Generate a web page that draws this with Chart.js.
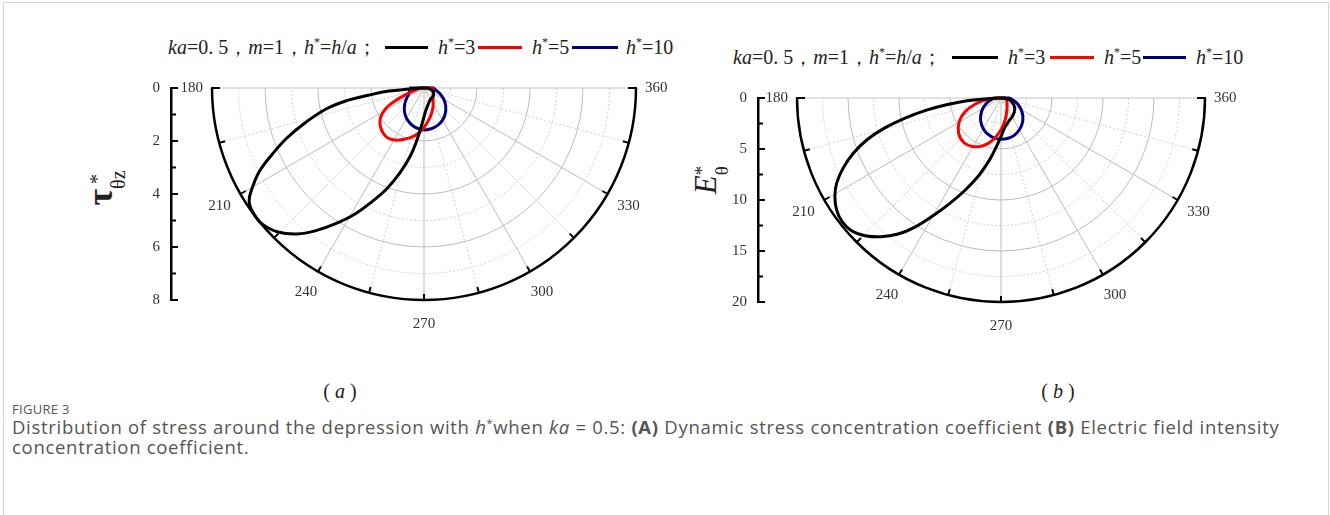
<!DOCTYPE html>
<html lang="en">
<head>
<meta charset="UTF-8">
<title>Figure 3</title>
<script src="https://cdn.jsdelivr.net/npm/chart.js"></script>
<style>
  body { margin: 0; background: #fff; width: 1330px; height: 515px; position: relative; overflow: hidden; font-family: "Liberation Serif", serif; color: #222; }
  .frame { position: absolute; left: 3px; top: 2px; width: 1324px; height: 600px; border: 1px solid #d4d4d4; }
  canvas { position: absolute; top: 0; }
  .lg { position: absolute; font-size: 20px; white-space: nowrap; line-height: 1; }
  .lg sup { font-size: 12px; vertical-align: 8px; }
  .ln { position: absolute; height: 3px; }
  .ytitle { position: absolute; transform: translate(-50%, -50%) rotate(-90deg); white-space: nowrap; line-height: 1; }
  .ss { display: inline-block; vertical-align: middle; line-height: 1.05; text-align: left; }
  .ss span { display: block; }
  .sub { position: absolute; font-size: 20px; transform: translateX(-50%); white-space: nowrap; }
  .cap { position: absolute; left: 12px; font-family: "Open Sans", sans-serif; color: #555; white-space: nowrap; }
</style>
</head>
<body>
<div class="frame"></div>

<!-- legends -->
<div class="lg" style="left:168px; top:36px;"><i>ka</i>=0. 5，<i>m</i>=1，<i>h</i><sup>*</sup>=<i>h</i>/<i>a</i>；</div>
<div class="ln" style="left:385px; top:46px; width:43px; background:#000;"></div>
<div class="lg" style="left:438px; top:36px;"><i>h</i><sup>*</sup>=3</div>
<div class="ln" style="left:478px; top:46px; width:44px; background:#f00;"></div>
<div class="lg" style="left:532px; top:36px;"><i>h</i><sup>*</sup>=5</div>
<div class="ln" style="left:572px; top:46px; width:46px; background:#00007f;"></div>
<div class="lg" style="left:626px; top:36px;"><i>h</i><sup>*</sup>=10</div>

<div class="lg" style="left:733px; top:46px;"><i>ka</i>=0. 5，<i>m</i>=1，<i>h</i><sup>*</sup>=<i>h</i>/<i>a</i>；</div>
<div class="ln" style="left:952px; top:56px; width:46px; background:#000;"></div>
<div class="lg" style="left:1008px; top:46px;"><i>h</i><sup>*</sup>=3</div>
<div class="ln" style="left:1050px; top:56px; width:44px; background:#f00;"></div>
<div class="lg" style="left:1104px; top:46px;"><i>h</i><sup>*</sup>=5</div>
<div class="ln" style="left:1143px; top:56px; width:43px; background:#00007f;"></div>
<div class="lg" style="left:1196px; top:46px;"><i>h</i><sup>*</sup>=10</div>

<!-- axis titles -->
<div class="ytitle" style="left:106px; top:188px;"><span style="font-size:36px; font-weight:bold;">τ</span><span class="ss" style="font-size:20px;"><span>&nbsp;*</span><span>θz</span></span></div>
<div class="ytitle" style="left:711px; top:180px;"><span style="font-size:31px; font-style:italic;">E</span><span class="ss" style="font-size:19px;"><span>*</span><span>θ</span></span></div>

<canvas id="chartA" width="680" height="340" style="left:0px;"></canvas>
<canvas id="chartB" width="650" height="340" style="left:680px;"></canvas>

<div class="sub" style="left:340px; top:380px;">( <i>a</i> )</div>
<div class="sub" style="left:1058px; top:380px;">( <i>b</i> )</div>

<div class="cap" style="top:400px; font-size:13px; letter-spacing:0.3px;">FIGURE 3</div>
<div class="cap" style="top:414px; font-size:18.5px; letter-spacing:0.7px;">Distribution of stress around the depression with <i>h</i><sup style="font-size:11px">*</sup>when <i>ka</i> = 0.5: <b>(A)</b> Dynamic stress concentration coefficient <b>(B)</b> Electric field intensity</div>
<div class="cap" style="top:434px; font-size:18.5px; letter-spacing:0.7px;">concentration coefficient.</div>

<script>
    // angle labels round the half circle
    const angleTicks = [180, 210, 240, 270, 300, 330, 360];

    // (a) dynamic stress concentration coefficient, tau*_theta_z
    const angBlackA = [180, 184.1, 185, 187.4, 189.2, 192, 196.1, 200.1, 203.6, 206.8, 210, 212.8, 215.9, 220, 224.6, 229, 232.7, 236.8, 241.3, 245.5, 249.9, 254.2, 258.5, 262.3, 266.8, 275.2, 296.6, 329, 346, 360];
    const rBlackA   = [0.1, 0.55, 1.33, 2.12, 2.93, 3.76, 4.63, 5.52, 6.25, 6.95, 7.47, 7.85, 7.98, 7.98, 7.74, 7.3, 6.78, 6.13, 5.42, 4.7, 4.03, 3.32, 2.64, 1.98, 1.36, 0.83, 0.51, 0.44, 0.31, 0.11];
    const angRedA   = [180, 190, 195, 200, 204, 208, 216, 228, 239, 254, 267, 282, 295, 307, 320, 335, 347, 360];
    const rRedA     = [0.2, 0.25, 0.35, 0.75, 1.2, 1.62, 2.05, 2.3, 2.28, 1.96, 1.59, 1.12, 0.8, 0.57, 0.45, 0.38, 0.35, 0.33];
    const angBlueA  = [180, 190, 200, 210, 220, 230, 240, 250, 260, 270, 280, 290, 300, 310, 320, 330, 340, 350, 360];
    const rBlueA    = [0.55, 0.55, 0.6, 0.75, 0.95, 1.15, 1.32, 1.45, 1.54, 1.58, 1.56, 1.5, 1.4, 1.25, 1.07, 0.87, 0.65, 0.45, 0.35];

    // (b) electric field intensity concentration coefficient, E*_theta
    const angBlackB = [180, 182.9, 184.5, 187, 189.3, 191.8, 194.5, 197.3, 200.5, 204, 207.4, 210.7, 214.3, 217.9, 221.6, 225.4, 229.1, 232.9, 236.4, 239.9, 244.1, 248.8, 254.2, 259.5, 264.7, 270, 276.6, 287.8, 303.5, 319.6, 332.2, 345.8, 356, 360];
    const rBlackB   = [0.3, 1.29, 3.33, 5.39, 7.48, 9.61, 11.81, 13.76, 15.46, 16.96, 18.15, 18.94, 19.5, 19.74, 19.6, 18.96, 18.0, 16.72, 15.16, 13.37, 11.48, 9.67, 7.84, 6.17, 4.77, 3.77, 2.97, 2.42, 2.09, 1.77, 1.41, 0.94, 0.41, 0.3];
    const angRedB   = [180, 184.4, 192.8, 200.6, 209.3, 219.6, 230.1, 239.4, 249.1, 259.2, 270, 280.9, 296.8, 330.4, 350, 360];
    const rRedB     = [0.27, 1.29, 2.53, 3.73, 4.69, 5.4, 5.69, 5.52, 5.02, 4.17, 3.11, 2.17, 1.29, 0.67, 0.5, 0.4];
    const angBlueB  = [180, 190, 200, 210, 220, 230, 240, 250, 260, 270, 280, 290, 300, 310, 320, 330, 340, 350, 360];
    const rBlueB    = [0.6, 0.99, 1.51, 2.06, 2.59, 3.07, 3.47, 3.77, 3.97, 4.05, 4.01, 3.87, 3.6, 3.24, 2.8, 2.28, 1.73, 1.19, 0.74];

    const serif = '"Liberation Serif", "Times New Roman", serif';

    // polar (angle, r) -> x/y for the scatter scales, loop closed back to the start
    function polarPoints(angles, radii) {
        const pts = angles.map((a, i) => ({
            x: radii[i] * Math.cos(a * Math.PI / 180),
            y: radii[i] * Math.sin(a * Math.PI / 180)
        }));
        pts.push(pts[0]);
        return pts;
    }

    // grid, outer circle, angle labels and inward ticks of the left axis
    const polarFrame = {
        id: 'polarFrame',
        beforeDatasetsDraw(chart, args, opts) {
            const { ctx, scales: { x, y } } = chart;
            const cx = x.getPixelForValue(0), cy = y.getPixelForValue(0);
            const k = (y.getPixelForValue(-opts.rMax) - cy) / opts.rMax;
            const R = opts.rMax * k;
            ctx.save();
            ctx.lineWidth = 1;
            for (let v = opts.minor; v < opts.rMax - 1e-6; v += opts.minor) {
                const major = Math.abs(v / opts.major - Math.round(v / opts.major)) < 1e-6;
                ctx.setLineDash(major ? [] : [2, 2]);
                ctx.strokeStyle = major ? '#bcbcbc' : '#d2d2d2';
                ctx.beginPath();
                ctx.arc(cx, cy, v * k, 0, Math.PI);
                ctx.stroke();
            }
            for (let a = 195; a < 360; a += 15) {
                const major = a % 30 === 0;
                const t = a * Math.PI / 180;
                ctx.setLineDash(major ? [] : [2, 2]);
                ctx.strokeStyle = major ? '#bcbcbc' : '#d2d2d2';
                ctx.beginPath();
                ctx.moveTo(cx, cy);
                ctx.lineTo(cx + R * Math.cos(t), cy - R * Math.sin(t));
                ctx.stroke();
            }
            ctx.setLineDash([]);
            ctx.strokeStyle = '#c4c4c4';
            ctx.beginPath();
            ctx.moveTo(cx - R, cy);
            ctx.lineTo(cx + R, cy);
            ctx.stroke();
            ctx.restore();
        },
        afterDraw(chart, args, opts) {
            const { ctx, scales: { x, y } } = chart;
            const cx = x.getPixelForValue(0), cy = y.getPixelForValue(0);
            const k = (y.getPixelForValue(-opts.rMax) - cy) / opts.rMax;
            const R = opts.rMax * k;
            ctx.save();
            ctx.strokeStyle = '#000';
            ctx.lineWidth = 2.5;
            ctx.beginPath();
            ctx.arc(cx, cy, R, 0, Math.PI);
            ctx.stroke();
            // ticks on the outer circle
            ctx.lineWidth = 2;
            for (let a = 195; a < 360; a += 15) {
                const t = a * Math.PI / 180;
                ctx.beginPath();
                ctx.moveTo(cx + R * Math.cos(t), cy - R * Math.sin(t));
                ctx.lineTo(cx + (R - 6) * Math.cos(t), cy - (R - 6) * Math.sin(t));
                ctx.stroke();
            }
            ctx.beginPath();
            ctx.moveTo(cx - R - 1, cy); ctx.lineTo(cx - R + 8, cy);
            ctx.moveTo(cx + R + 1, cy); ctx.lineTo(cx + R - 8, cy);
            ctx.stroke();
            // inward ticks on the left axis
            const ax = chart.chartArea.left;
            for (let v = 0; v <= opts.rMax + 1e-6; v += opts.minor) {
                const major = Math.abs(v / opts.major - Math.round(v / opts.major)) < 1e-6;
                const py = y.getPixelForValue(-v);
                ctx.beginPath();
                ctx.moveTo(ax - 1, py);
                ctx.lineTo(ax + (major ? 7 : 5), py);
                ctx.stroke();
            }
            // angle labels
            ctx.fillStyle = '#333';
            ctx.font = '15px ' + serif;
            ctx.textBaseline = 'middle';
            angleTicks.forEach(a => {
                const t = a * Math.PI / 180;
                if (a === 180) {
                    ctx.textAlign = 'right';
                    ctx.fillText(String(a), cx - R - 9, cy);
                } else if (a === 360) {
                    ctx.textAlign = 'left';
                    ctx.fillText(String(a), cx + R + 9, cy);
                } else {
                    ctx.textAlign = 'center';
                    ctx.fillText(String(a), cx + (R + 24) * Math.cos(t), cy - (R + 24) * Math.sin(t));
                }
            });
            ctx.restore();
        }
    };

    function makePolar(id, g, series) {
        const k = g.R / g.rMax;
        const xs = (g.ox - g.axisX) / k;
        return new Chart(document.getElementById(id), {
            type: 'scatter',
            data: {
                datasets: series.map(s => ({
                    data: polarPoints(s.ang, s.r),
                    borderColor: s.color,
                    borderWidth: 3,
                    showLine: true,
                    pointRadius: 0,
                    tension: 0.4,
                    clip: false,
                    borderJoinStyle: 'round'
                }))
            },
            options: {
                responsive: false,
                animation: false,
                layout: {
                    padding: { left: 0, top: g.oy, right: g.W - (2 * g.ox - g.axisX), bottom: g.H - g.oy - g.R }
                },
                plugins: {
                    legend: { display: false },
                    tooltip: { enabled: false },
                    polarFrame: { rMax: g.rMax, major: g.major, minor: g.minor }
                },
                scales: {
                    x: { type: 'linear', display: false, min: -xs, max: xs },
                    y: {
                        type: 'linear',
                        min: -g.rMax,
                        max: 0,
                        afterFit: s => { s.width = g.axisX; },
                        border: { display: true, color: '#000', width: 2.5 },
                        grid: { drawOnChartArea: false, drawTicks: false },
                        ticks: {
                            stepSize: g.major,
                            callback: v => Math.abs(v),
                            color: '#333',
                            padding: 11,
                            font: { family: serif, size: 15 }
                        }
                    }
                }
            },
            plugins: [polarFrame]
        });
    }

    makePolar('chartA',
        { W: 680, H: 340, ox: 424, oy: 88, R: 212, axisX: 171, rMax: 8, major: 2, minor: 1 },
        [
            { ang: angBlackA, r: rBlackA, color: '#000' },
            { ang: angRedA, r: rRedA, color: '#f00' },
            { ang: angBlueA, r: rBlueA, color: '#00007f' }
        ]);

    makePolar('chartB',
        { W: 650, H: 340, ox: 321, oy: 98, R: 204, axisX: 78, rMax: 20, major: 5, minor: 2.5 },
        [
            { ang: angBlackB, r: rBlackB, color: '#000' },
            { ang: angRedB, r: rRedB, color: '#f00' },
            { ang: angBlueB, r: rBlueB, color: '#00007f' }
        ]);
</script>
</body>
</html>
